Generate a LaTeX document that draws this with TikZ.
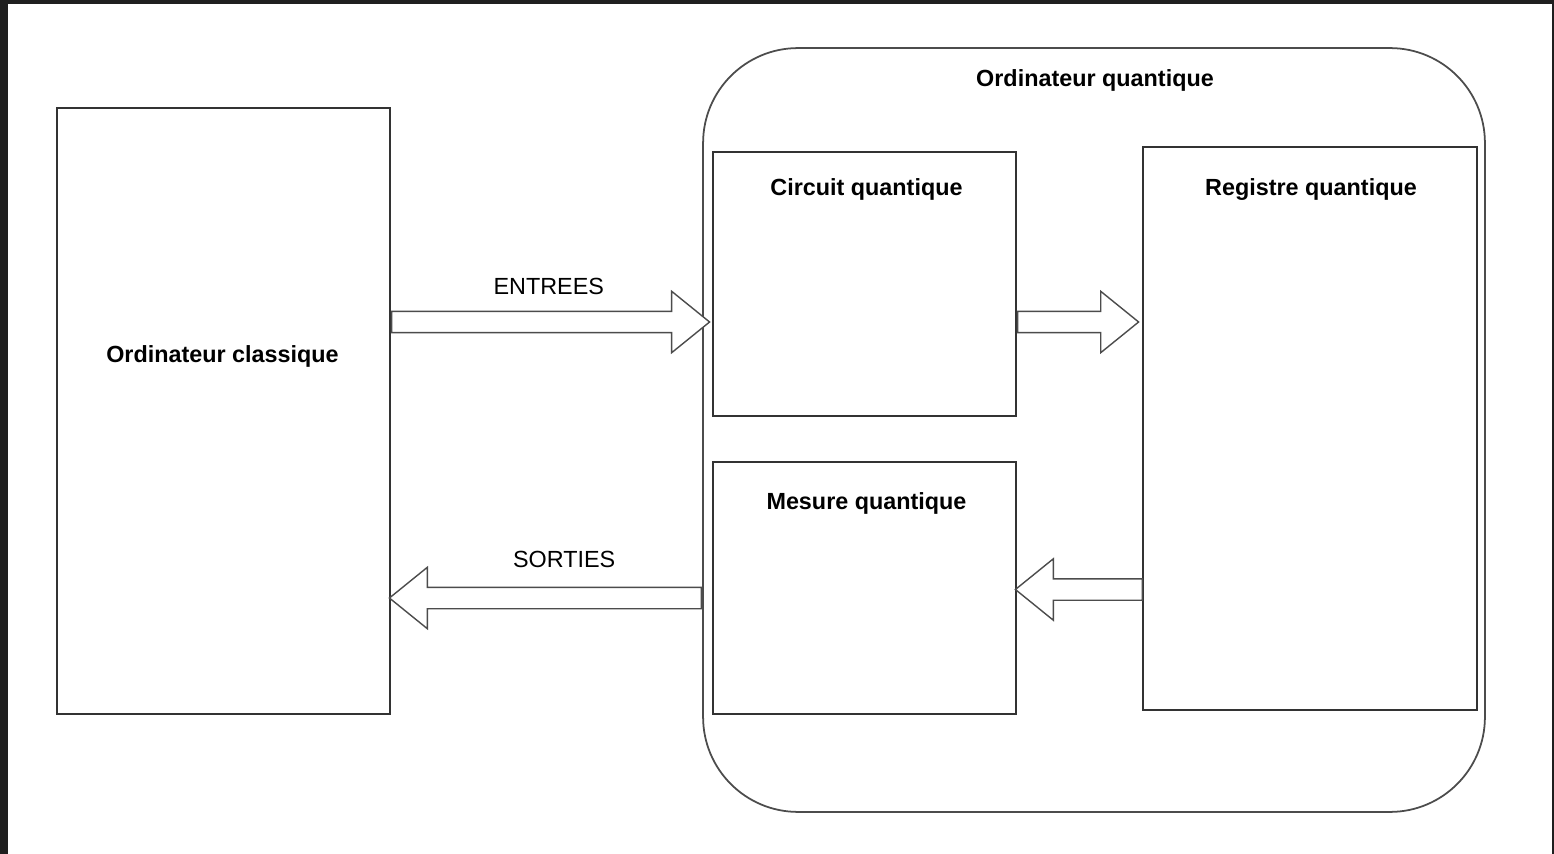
\documentclass[tikz,border=0pt]{standalone}
\usepackage{fontspec}
\setmainfont{Liberation Sans}
\usetikzlibrary{shapes.arrows,calc}

\begin{document}
\begin{tikzpicture}[x=0.02cm, y=-0.02cm,
    every node/.style={font=\fontsize{13.3}{15}\selectfont},
    titre/.style={font=\fontsize{13.3}{15}\selectfont\bfseries},
    bloc/.style={draw=black!80, line width=1.1pt, inner sep=0pt},
    fleche/.style={single arrow, draw=black!70, line width=0.8pt, fill=white,
      inner sep=0pt, inner ysep=0.2cm, single arrow head extend=0.4cm,
      single arrow tip angle=78, single arrow head indent=0pt, anchor=tail}]
    % Frame of the screenshot
    \fill[black!88] (0,0) rectangle (1554,854);
    \fill[white] (8,4) rectangle (1552,854);
    \useasboundingbox (0,0) rectangle (1554,854);
    % Classical computer
    \node[bloc, minimum width=6.66cm, minimum height=12.12cm] (classique) at (223.5,411) {};
    \node[titre] at ($(classique.center)+(-1,-55)$) {Ordinateur classique};
    % Quantum computer and its parts
    \node[draw=black!70, line width=1pt, rounded corners=1.9cm,
      minimum width=15.64cm, minimum height=15.28cm] (quantique) at (1094,430) {};
    \node[titre] at ($(quantique.north)+(1,33)$) {Ordinateur quantique};
    \node[bloc, minimum width=6.06cm, minimum height=5.28cm] (circuit) at (864.5,284) {};
    \node[titre] at ($(circuit.north)+(2,38)$) {Circuit quantique};
    \node[bloc, minimum width=6.06cm, minimum height=5.04cm] (mesure) at (864.5,588) {};
    \node[titre] at ($(mesure.north)+(2,42)$) {Mesure quantique};
    \node[bloc, minimum width=6.68cm, minimum height=11.26cm] (registre) at (1310,428.5) {};
    \node[titre] at ($(registre.north)+(1,43)$) {Registre quantique};
    % Block arrows
    \node[fleche, minimum height=6.36cm] (entrees) at ($(classique.east)+(0,-89)$) {};
    \node at ($(entrees.tail)!0.5!(entrees.tip)+(-2,-36)$) {ENTREES};
    \node[fleche, minimum height=2.42cm] (calcul) at ($(circuit.east)+(0,38)$) {};
    \node[fleche, rotate=180, minimum height=2.54cm] (lecture) at ($(registre.west)+(1,161)$) {};
    \node[fleche, rotate=180, minimum height=6.24cm] (sorties) at ($(mesure.west)+(-10,10)$) {};
    \node at ($(sorties.tail)!0.5!(sorties.tip)+(19,-39)$) {SORTIES};
  \end{tikzpicture}
\end{document}
